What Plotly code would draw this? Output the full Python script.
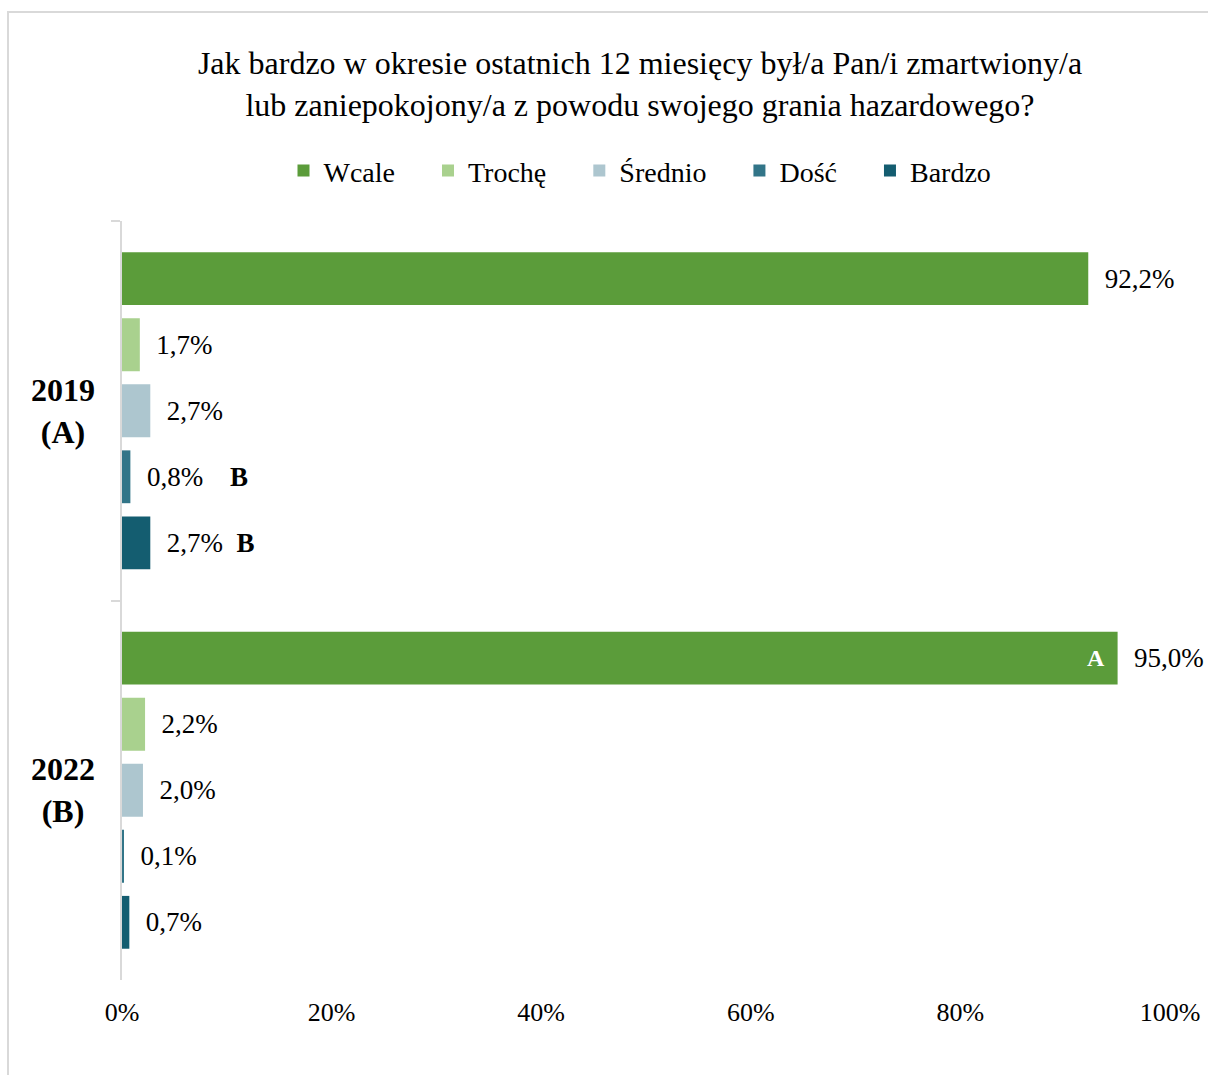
import plotly.graph_objects as go

# ---- data ----
categories = ["2019<br>(A)", "2022<br>(B)"]
series_names = ["Wcale", "Trochę", "Średnio", "Dość", "Bardzo"]
wcale = [92.2, 95.0]
troche = [1.7, 2.2]
srednio = [2.7, 2.0]
dosc = [0.8, 0.1]
bardzo = [2.7, 0.7]
# significance markers appended to labels
dosc_sig = ["B", ""]
bardzo_sig = ["B", ""]
wcale_sig_inside = ["", "A"]
x_ticks = [0, 20, 40, 60, 80, 100]
x_tick_labels = ["0%", "20%", "40%", "60%", "80%", "100%"]

colors = ["#5B9C3A", "#A9D18E", "#ADC6CF", "#327588", "#145D70"]
values = [wcale, troche, srednio, dosc, bardzo]
sig_after = [["", ""], ["", ""], ["", ""], dosc_sig, bardzo_sig]
sig_gap = ["", "", "", "\u00a0\u00a0\u00a0", "\u00a0"]

FONT = "Liberation Serif, Times New Roman, serif"
LEGEND_PAD = "\u00a0" * 4


def fmt(v):
    return f"{v:.1f}".replace(".", ",") + "%"


fig = go.Figure()
n = len(series_names)
for i, (name, vals, col, sigs, gap) in enumerate(zip(series_names, values, colors, sig_after, sig_gap)):
    texts = []
    for v, s in zip(vals, sigs):
        t = "\u00a0\u00a0" + fmt(v)
        if s:
            t += gap + "\u00a0<b>" + s + "</b>"
        texts.append(t)
    fig.add_trace(go.Bar(
        y=categories, x=vals, name=name + (LEGEND_PAD if i < n - 1 else ""), orientation="h",
        marker=dict(color=col, line=dict(width=0)),
        text=texts, textposition="outside", cliponaxis=False,
        textfont=dict(family=FONT, size=27, color="black"),
        hoverinfo="skip",
    ))

# figure fills the whole window (body margin removed below)
W, H = 1208, 1075
L, T = 122, 221
PW, PH = 1048, 759

annotations = []
# category labels (centered multiline)
for c in categories:
    annotations.append(dict(
        x=(63 - L) / PW, xref="paper", y=c, yref="y", text="<b>" + c + "</b>",
        showarrow=False, xanchor="center", yanchor="middle", align="center",
        font=dict(family=FONT, size=32, color="black"),
    ))
# letter inside Wcale bar
for c, v, s in zip(categories, wcale, wcale_sig_inside):
    if s:
        annotations.append(dict(
            x=v, xref="x", y=c, yref="y", text="<b>" + s + "</b>",
            showarrow=False, xanchor="right", yanchor="middle",
            xshift=-11, yshift=132,
            font=dict(family=FONT, size=24, color="white"),
        ))

fig.update_layout(
    width=W, height=H,
    margin=dict(l=L, r=W - L - PW, t=T, b=H - T - PH, autoexpand=False),
    paper_bgcolor="white", plot_bgcolor="white",
    barmode="group", bargap=0.13, bargroupgap=0.2,
    font=dict(family=FONT, color="black"),
    title=dict(
        text="Jak bardzo w okresie ostatnich 12 miesięcy był/a Pan/i zmartwiony/a<br>lub zaniepokojony/a z powodu swojego grania hazardowego?",
        x=(640 - L) / PW, xref="paper", xanchor="center",
        y=1 - 74 / H, yref="container", yanchor="middle",
        font=dict(family=FONT, size=32, color="black"),
    ),
    legend=dict(
        orientation="h", x=(640 - L) / PW, xanchor="center", y=1.066, yanchor="middle",
        font=dict(family=FONT, size=28, color="black"),
        traceorder="normal",
    ),
    xaxis=dict(
        range=[0, 100], tickvals=x_ticks, ticktext=x_tick_labels,
        showgrid=False, zeroline=False, showline=False, ticks="",
        ticklabelstandoff=14, automargin=False,
        tickfont=dict(family=FONT, size=26, color="black"),
    ),
    yaxis=dict(
        autorange="reversed", showgrid=False, zeroline=False,
        showline=True, linecolor="#D9D9D9", linewidth=2,
        ticks="outside", tickson="boundaries", ticklen=9, tickcolor="#D9D9D9", tickwidth=2,
        showticklabels=False, automargin=False,
    ),
    annotations=annotations,
    shapes=[dict(
        type="rect", xref="paper", yref="paper",
        x0=(8 - L) / PW, x1=1.08, y0=-0.16, y1=1 + (T - 12) / PH,
        line=dict(color="#D9D9D9", width=2), fillcolor="rgba(0,0,0,0)", layer="below",
    )],
)

fig.write_html(
    "out.html",
    config={"displayModeBar": False},
    post_script="document.body.style.margin='0';document.body.style.overflow='hidden';",
)
